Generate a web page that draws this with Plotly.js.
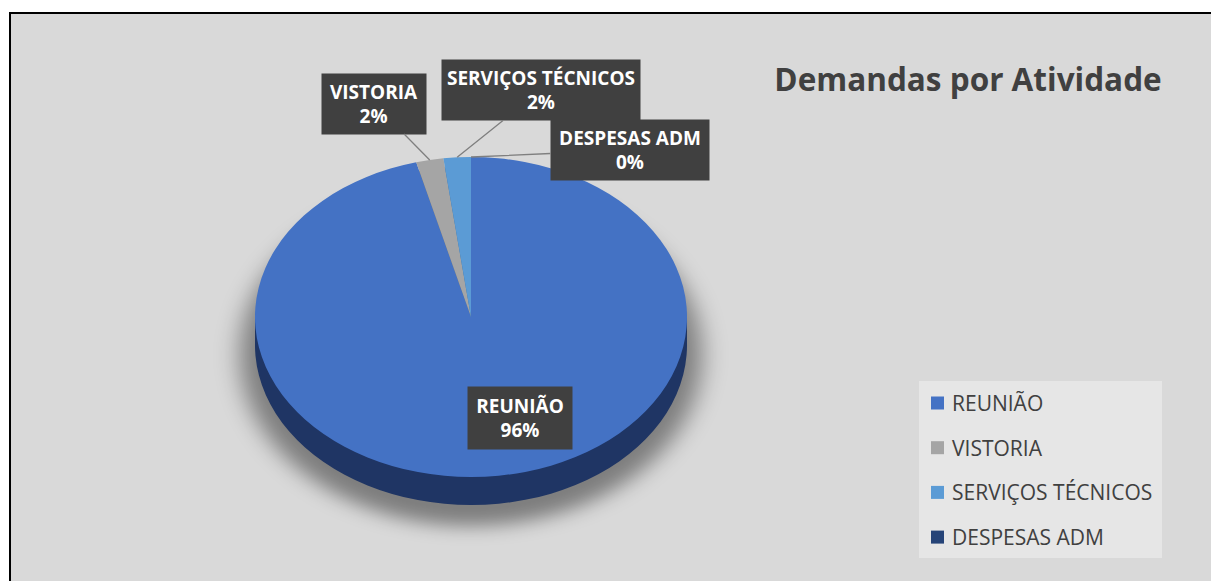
<!DOCTYPE html>
<html><head><meta charset="utf-8">
<script src="https://cdn.plot.ly/plotly-3.0.1.min.js"></script>
<style>
html,body{margin:0;padding:0;background:#ffffff;}
#chart{width:1211px;height:581px;}
</style></head><body>
<div id="chart"></div>
<script>
// ---- data ----
const categories = ['REUNIÃO', 'VISTORIA', 'SERVIÇOS TÉCNICOS', 'DESPESAS ADM'];
const demandCounts = [47, 1, 1, 0];
const sliceColors = ['#4472C4', '#A5A5A5', '#5B9BD5', '#264478'];
const sideColors = ['#1F3564', '#6E6E6E', '#3A6C9C', '#16284A'];
const chartTitle = 'Demandas por Atividade';

// ---- layout geometry ----
const W = 1211, H = 581;
const cx = 471, cy = 317, r = 160, depth = 28, sx = 1.35;
function dom(cyPix, rad) {
  return { x: [(cx - rad) / W, (cx + rad) / W], y: [1 - (cyPix + rad) / H, 1 - (cyPix - rad) / H] };
}
const pieBase = {
  type: 'pie', labels: categories, values: demandCounts, sort: false,
  direction: 'clockwise', rotation: 0, textinfo: 'none', hoverinfo: 'skip', showlegend: false
};
const data = [];
data.push(Object.assign({}, pieBase, {
  domain: dom(cy + depth + 10, r + 11),
  marker: { colors: categories.map(() => 'rgba(0,0,0,0.42)'), line: { width: 0 } }
}));
[depth / 3, 2 * depth / 3, depth].forEach(d => {
  data.push(Object.assign({}, pieBase, {
    domain: dom(cy + d, r),
    marker: { colors: sideColors, line: { width: 0 } }
  }));
});
data.push(Object.assign({}, pieBase, {
  domain: dom(cy, r),
  marker: { colors: sliceColors, line: { width: 0 } }
}));

// ---- labels ----
const total = demandCounts.reduce((a, b) => a + b, 0);
// [centerX, centerY, boxWidth, boxHeight] in pixels
const labelBoxes = [[520, 418, 104, 62], [374, 103.5, 104, 60], [541, 90, 198, 60], [630, 150, 158, 60]];
const annotations = [];
let cum = 0;
categories.forEach((cat, i) => {
  const v = demandCounts[i];
  const pct = Math.round(v / total * 100);
  const mid = 2 * Math.PI * (cum + v / 2) / total;
  cum += v;
  const tipX = cx + r * sx * Math.sin(mid);
  const tipY = cy - r * Math.cos(mid);
  const [bx, by, bw, bh] = labelBoxes[i];
  const base = {
    xref: 'paper', yref: 'paper', text: '<b>' + cat + '<br>' + pct + '%</b>',
    font: { family: 'Open Sans', size: 19, color: '#ffffff' },
    bgcolor: '#404040', borderpad: 4, width: bw - 8, height: bh - 8, align: 'center', valign: 'middle'
  };
  if (i === 0) {
    annotations.push(Object.assign(base, { x: bx / W, y: 1 - by / H, xanchor: 'center', yanchor: 'middle', showarrow: false }));
  } else {
    annotations.push(Object.assign(base, {
      x: tipX / W, y: 1 - tipY / H, axref: 'pixel', ayref: 'pixel',
      ax: bx - tipX, ay: by - tipY, showarrow: true, arrowhead: 0,
      arrowwidth: 1.3, arrowcolor: '#7f7f7f', standoff: 0
    }));
  }
});

// ---- frame + custom legend ----
const shapes = [
  { type: 'rect', xref: 'paper', yref: 'paper', x0: 10 / W, x1: 1.02, y0: -0.02, y1: 1 - 13 / H, line: { color: '#000', width: 2 }, fillcolor: '#d9d9d9', layer: 'below' },
  { type: 'rect', xref: 'paper', yref: 'paper', x0: 919 / W, x1: 1162 / W, y0: 1 - 558 / H, y1: 1 - 381 / H, line: { width: 0 }, fillcolor: '#e6e6e6', layer: 'below' }
];
categories.forEach((cat, i) => {
  const rowY = 403 + i * 44.7;
  shapes.push({ type: 'rect', xref: 'paper', yref: 'paper', x0: 931 / W, x1: 944 / W, y0: 1 - (rowY + 6.5) / H, y1: 1 - (rowY - 6.5) / H, line: { width: 0 }, fillcolor: sliceColors[i] });
  annotations.push({ xref: 'paper', yref: 'paper', x: 950 / W, y: 1 - rowY / H, xanchor: 'left', yanchor: 'middle', showarrow: false, text: cat, font: { family: 'Open Sans', size: 21, color: '#404040' } });
});

const layout = {
  width: W, height: H, margin: { l: 0, r: 0, t: 0, b: 0 },
  paper_bgcolor: '#ffffff', plot_bgcolor: 'rgba(0,0,0,0)', showlegend: false,
  title: { text: '<b>' + chartTitle + '</b>', font: { family: 'Open Sans', size: 31.5, color: '#404040' }, x: 968 / W, xanchor: 'center', y: 1 - 80 / H, yanchor: 'middle' },
  annotations: annotations, shapes: shapes
};

Plotly.newPlot('chart', data, layout, { staticPlot: true }).then(gd => {
  const layer = gd.querySelector('.pielayer');
  if (layer) {
    layer.style.transformOrigin = cx + 'px ' + cy + 'px';
    layer.style.transform = 'scaleX(' + sx + ')';
    const tr = layer.querySelectorAll('.trace');
    if (tr.length) tr[0].style.filter = 'blur(9px)';
  }
});
</script>
</body></html>
